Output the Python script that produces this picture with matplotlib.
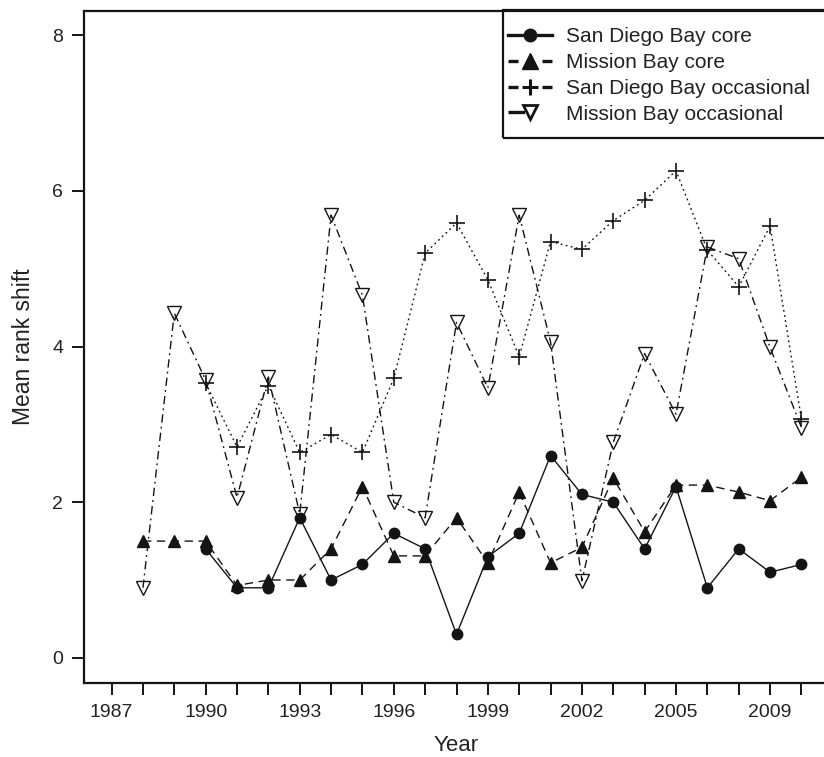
import matplotlib
matplotlib.use("Agg")
import matplotlib.pyplot as plt
from matplotlib.patches import Rectangle
import numpy as np

plt.rcParams['font.family'] = ['Liberation Sans', 'DejaVu Sans']

# Axis years (first slot 1987 has no data); data years follow
axis_years = [1987, 1988, 1989, 1990, 1991, 1992, 1993, 1994, 1995, 1996, 1997,
              1998, 1999, 2000, 2001, 2002, 2003, 2004, 2005, 2006, 2007, 2009, 2010]
data_years = axis_years[1:]

nan = np.nan
sd_core = [nan, nan, 1.4, 0.9, 0.9, 1.8, 1.0, 1.2, 1.6, 1.4, 0.3, 1.3, 1.6, 2.6,
           2.1, 2.0, 1.4, 2.2, 0.9, 1.4, 1.1, 1.2]
mb_core = [1.5, 1.5, 1.5, 0.93, 1.0, 1.0, 1.4, 2.2, 1.31, 1.31, 1.8, 1.22, 2.13, 1.22,
           1.42, 2.31, 1.62, 2.22, 2.22, 2.13, 2.02, 2.32]
sd_occ = [nan, nan, 3.53, 2.71, 3.5, 2.64, 2.87, 2.64, 3.59, 5.2, 5.59, 4.86, 3.87,
          5.35, 5.25, 5.62, 5.88, 6.26, 5.24, 4.77, 5.55, 3.07]
mb_occ = [0.9, 4.43, 3.57, 2.06, 3.61, 1.85, 5.69, 4.66, 2.0, 1.8, 4.31, 3.47, 5.69,
          4.06, 0.99, 2.77, 3.91, 3.13, 5.28, 5.13, 3.99, 2.96]

labels = ["San Diego Bay core", "Mission Bay core",
          "San Diego Bay occasional", "Mission Bay occasional"]

W, H = 824, 757
fig = plt.figure(figsize=(W / 100, H / 100), dpi=100)
ax_l, ax_r, ax_t, ax_b = 84, 829, 10.5, 682.7
ax = fig.add_axes([ax_l / W, 1 - ax_b / H, (ax_r - ax_l) / W, (ax_b - ax_t) / H])

x = np.array([axis_years.index(y) for y in data_years])
col = '#141414'
lw = 1.0

h1, = ax.plot(x, sd_core, color=col, lw=lw, ls='-', marker='o', ms=7.5,
              mfc=col, mec=col, label=labels[0])
h2, = ax.plot(x, mb_core, color=col, lw=lw, ls=(0, (6, 4)), marker='^', ms=9,
              mfc=col, mec=col, label=labels[1])
h3, = ax.plot(x, sd_occ, color=col, lw=lw, ls=(0, (1.3, 2.4)), marker='+', ms=11,
              mew=1.2, mec=col, label=labels[2])
h4, = ax.plot(x, mb_occ, color=col, lw=lw, ls=(0, (6, 3, 1.3, 3)), marker='v', ms=9.5,
              mfc='none', mec=col, mew=1.0, label=labels[3])

ax.set_xlim(-0.88, 22.88)
ax.set_ylim(-0.32, 8.32)
ax.set_xticks(np.arange(len(axis_years)))
ax.set_xticklabels([str(y) if i % 3 == 0 else '' for i, y in enumerate(axis_years)])
ax.set_yticks([0, 2, 4, 6, 8])
ax.tick_params(axis='both', direction='out', length=8.6, width=1.4, color=col,
               labelsize=14, labelcolor='#222222')
ax.tick_params(axis='x', pad=7)
ax.tick_params(axis='y', pad=6.5)
for s in ax.spines.values():
    s.set_linewidth(1.6)
    s.set_color(col)

ax.set_xlabel("Year", fontsize=16, color='#222222', labelpad=10)
ax.set_ylabel("Mean rank shift", fontsize=16.5, color='#222222', labelpad=12)

leg = fig.legend(handles=[h1, h2, h3, h4], labels=labels, loc='upper left',
                 bbox_to_anchor=(508 / W, 1 - 27.5 / H), frameon=False,
                 borderpad=0, fontsize=15, handlelength=2.1, handletextpad=0.7,
                 labelspacing=0.32, borderaxespad=0)
for t in leg.get_texts():
    t.set_color('#222222')

leg_styles = ['-', (0, (3.0, 7.2)), (0, (3.0, 7.2)), (0, (5.0, 20))]
leg_ms = [9, 11, 12, 10.5]
for ln, st, ms in zip(leg.get_lines(), leg_styles, leg_ms):
    ln.set_linewidth(2.4)
    ln.set_linestyle(st)
    ln.set_markersize(ms)
    if ln.get_marker() == '+':
        ln.set_markeredgewidth(2.2)
    elif ln.get_marker() == 'v':
        ln.set_markeredgewidth(2.0)

fig.patches.append(Rectangle((503 / W, 1 - 138 / H), (860 - 503) / W, (138 - 10.5) / H,
                             transform=fig.transFigure, fill=False, ec=col, lw=1.6,
                             clip_on=False))

fig.savefig("out.png", dpi=100)
